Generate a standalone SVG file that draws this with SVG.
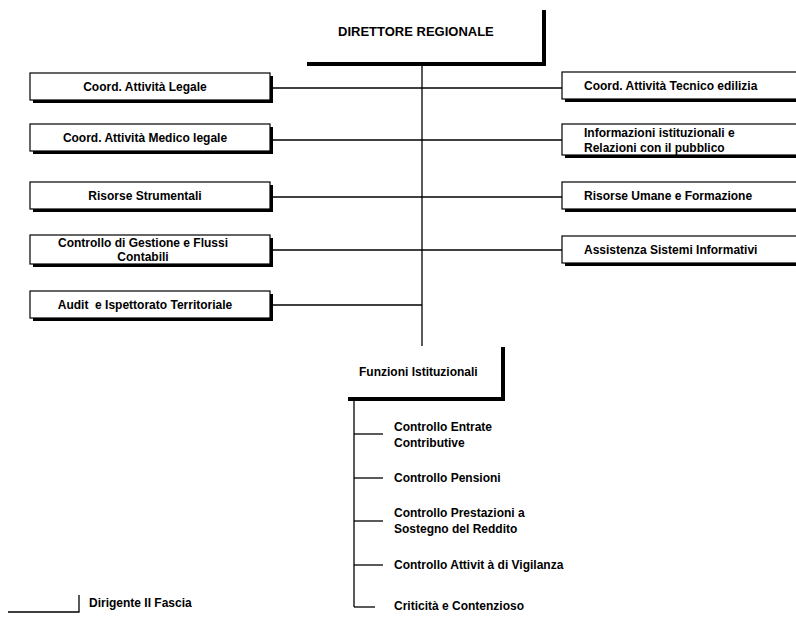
<svg xmlns="http://www.w3.org/2000/svg" width="796" height="617" viewBox="0 0 796 617">
<style>
text{font-family:"Liberation Sans",Arial,sans-serif;font-size:12px;font-weight:bold;fill:#000}
.t{font-size:13px}
.c{text-anchor:middle}
.box{fill:#fff;stroke:#000;stroke-width:1.2}
.sh{fill:#000}
.ln{stroke:#000;stroke-width:1.3;fill:none}
.thick{stroke:#000;stroke-width:4;fill:none}
</style>
<defs>
<g id="lbox"><rect class="sh" x="3" y="3" width="240" height="27"/><rect class="box" x="0" y="0" width="240" height="27"/></g>
<g id="lbox2"><rect class="sh" x="3" y="3" width="240" height="29"/><rect class="box" x="0" y="0" width="240" height="29"/></g>
<g id="rbox"><rect class="sh" x="3" y="3" width="260" height="27"/><rect class="box" x="0" y="0" width="260" height="27"/></g>
<g id="rbox2"><rect class="sh" x="3" y="3" width="260" height="31"/><rect class="box" x="0" y="0" width="260" height="31"/></g>
</defs>

<g id="connectors">
<line class="ln" x1="422" y1="65" x2="422" y2="346"/>
<line class="ln" x1="272" y1="88" x2="562" y2="88"/>
<line class="ln" x1="272" y1="140" x2="562" y2="140"/>
<line class="ln" x1="272" y1="197" x2="562" y2="197"/>
<line class="ln" x1="272" y1="250" x2="562" y2="250"/>
<line class="ln" x1="272" y1="305" x2="422" y2="305"/>
<line class="ln" x1="354" y1="400" x2="354" y2="607"/>
<line class="ln" x1="354" y1="434" x2="383" y2="434"/>
<line class="ln" x1="354" y1="478" x2="383" y2="478"/>
<line class="ln" x1="354" y1="521" x2="383" y2="521"/>
<line class="ln" x1="354" y1="565" x2="383" y2="565"/>
<line class="ln" x1="354" y1="607" x2="375" y2="607"/>
</g>

<g id="direttore">
<path class="thick" d="M307 64 H544 V10"/>
<text class="t" x="338" y="36">DIRETTORE REGIONALE</text>
</g>

<g id="coord-legale"><use href="#lbox" x="30" y="73"/><text class="c" x="145" y="91">Coord. Attività Legale</text></g>
<g id="coord-medico"><use href="#lbox" x="30" y="124"/><text class="c" x="145" y="142">Coord. Attività Medico legale</text></g>
<g id="risorse-strumentali"><use href="#lbox" x="30" y="182"/><text class="c" x="145" y="200">Risorse Strumentali</text></g>
<g id="controllo-gestione"><use href="#lbox2" x="30" y="235"/><text class="c" x="143" y="247">Controllo di Gestione e Flussi</text><text class="c" x="143" y="261">Contabili</text></g>
<g id="audit"><use href="#lbox" x="30" y="291"/><text class="c" x="145" y="309" xml:space="preserve">Audit  e Ispettorato Territoriale</text></g>

<g id="coord-tecnico"><use href="#rbox" x="562" y="72"/><text x="584" y="90">Coord. Attività Tecnico edilizia</text></g>
<g id="informazioni"><use href="#rbox2" x="562" y="124"/><text x="584" y="137">Informazioni istituzionali e</text><text x="584" y="152">Relazioni con il pubblico</text></g>
<g id="risorse-umane"><use href="#rbox" x="562" y="182"/><text x="584" y="200">Risorse Umane e Formazione</text></g>
<g id="assistenza"><use href="#rbox" x="562" y="236"/><text x="584" y="254">Assistenza Sistemi Informativi</text></g>

<g id="funzioni">
<path class="thick" d="M348 399 H503 V347"/>
<text x="359" y="376">Funzioni Istituzionali</text>
</g>

<g id="sub-entrate"><text x="394" y="431">Controllo Entrate</text><text x="394" y="447">Contributive</text></g>
<g id="sub-pensioni"><text x="394" y="482">Controllo Pensioni</text></g>
<g id="sub-prestazioni"><text x="394" y="517">Controllo Prestazioni a</text><text x="394" y="533">Sostegno del Reddito</text></g>
<g id="sub-vigilanza"><text x="394" y="569">Controllo Attivit à di Vigilanza</text></g>
<g id="sub-criticita"><text x="394" y="610">Criticità e Contenzioso</text></g>

<g id="legend">
<path class="ln" d="M8 612 H79 V595"/>
<text x="89" y="607">Dirigente II Fascia</text>
</g>
</svg>
